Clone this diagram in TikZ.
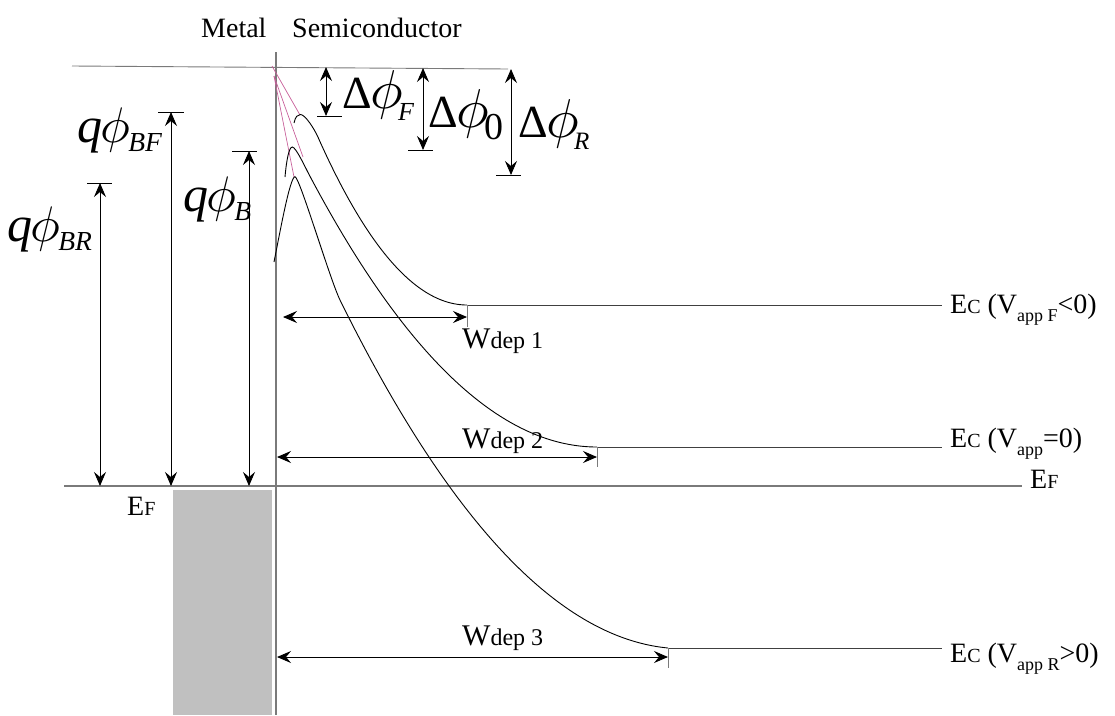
\documentclass[tikz,border=0pt]{standalone}
\usepackage{fontspec}
\setmainfont{Liberation Serif}
\usetikzlibrary{arrows.meta}
\newcommand\fs[1]{\fontsize{#1}{#1}\selectfont}
\newcommand\qlab[1]{{\fs{10}\textit{q}\kern-0.3pt$\phi$}\kern-0.4pt\raisebox{-1.8pt}{\fs{5.5}\textit{#1}}}
\newcommand\dlab[2]{{\fs{9.2}Δ}\kern-0.2pt{\fs{10.8}$\phi$}\kern-1pt\raisebox{-2.4pt}{\fs{#1}#2}}
\definecolor{lg}{HTML}{7A7A7A}
\definecolor{pk}{HTML}{C8609A}
\definecolor{metalgray}{HTML}{C0C0C0}
\begin{document}
\begin{tikzpicture}[x=1pt,y=-1pt,
  txt/.style={inner sep=0pt, anchor=base west},
  glab/.style={inner sep=0pt, anchor=base west, scale=5},
  tipA/.tip={Stealth[length=14pt,width=12pt,inset=5pt]},
  dimarrow/.style={line width=0.9pt, tipA-tipA},
  barline/.style={line width=0.9pt},
  band/.style={line width=0.9pt, black},
  greyline/.style={draw=lg, line width=1.3pt},
  flatline/.style={draw=black!75, line width=1pt},
  pinkline/.style={draw=pk, line width=0.7pt}]
\useasboundingbox (0,0) rectangle (1115,715);

% metal band
\fill[metalgray] (173,490) rectangle (272,715);

% reference lines
\coordinate (topL) at (72,66);
\coordinate (topR) at (508,69);
\draw[draw=lg, line width=0.9pt] (topL) -- (topR);
\coordinate (ifT) at (276,52);
\coordinate (ifB) at (276,715);
\draw[greyline] (ifT) -- (ifB);
\coordinate (efL) at (64,486);
\coordinate (efR) at (1022,486);
\draw[greyline] (efL) -- (efR);

% title
\node[txt] (metal) at (201,37) {\fs{28}Metal};
\node[txt] (semi) at (292,37) {\fs{28}Semiconductor};

% barrier heights
\coordinate (bfT) at (171,112); \coordinate (bfB) at (171,486);
\draw[barline] (158,112) -- (184,112);
\draw[dimarrow] (bfT) -- (bfB);
\coordinate (b0T) at (249,151); \coordinate (b0B) at (249,486);
\draw[barline] (232,151) -- (257,151);
\draw[dimarrow] (b0T) -- (b0B);
\coordinate (brT) at (100,183); \coordinate (brB) at (100,486);
\draw[barline] (87,183) -- (112,183);
\draw[dimarrow] (brT) -- (brB);

\node[glab] (qbf) at (76,142) {\qlab{BF}};
\node[glab] (qb) at (182,211) {\qlab{B}};
\node[glab] (qbr) at (6,241) {\qlab{BR}};

% delta phi
\coordinate (dfT) at (326,67); \coordinate (dfB) at (326,116);
\draw[barline] (317,116) -- (342,116);
\draw[dimarrow] (dfT) -- (dfB);
\coordinate (d0T) at (423,68); \coordinate (d0B) at (423,150);
\draw[barline] (408,150) -- (433,150);
\draw[dimarrow] (d0T) -- (d0B);
\coordinate (drT) at (511,69); \coordinate (drB) at (511,175);
\draw[barline] (496,175) -- (521,175);
\draw[dimarrow] (drT) -- (drB);

\node[glab] (dphf) at (341,108) {\dlab{5.2}{\textit{F}}};
\node[glab] (dph0) at (427,127) {\dlab{7.6}{0}};
\node[glab] (dphr) at (517,137) {\dlab{5}{\textit{R}}};

% pink construction lines
\draw[pinkline] (272,66) -- (300,115);
\draw[pinkline] (274,76) -- (303,157);
\draw[pinkline] (274,76) -- (294,177);

% band curves
\draw[band] (294,123) .. controls (295.5,116.5) and (297.5,114.5) .. (300.5,114.5)
  .. controls (305,114.5) and (314,128.2) .. (318,137.2)
  -- plot[domain=318:467, samples=60] (\x,{305-(0.08695*(467-\x))^2});
\draw[band] (285,177) .. controls (286.5,160) and (289,147) .. (292.3,147)
  .. controls (296,147) and (306,168.9) .. (310,176.4)
  -- plot[domain=310:597, samples=80] (\x,{447-(0.05732*(597-\x))^2});
\draw[band] (274,262) .. controls (280,232) and (290,176.7) .. (295,176.7)
  .. controls (299.5,176.7) and (330,279.7) .. (340,300)
  -- plot[domain=340:668, samples=90] (\x,{648-0.0962*(668-\x)-(0.05423*(668-\x))^2});

% flat conduction band levels
\coordinate (fF) at (467,305); \coordinate (fFe) at (942,305);
\draw[flatline] (fF) -- (fFe);
\coordinate (f0) at (597,447); \coordinate (f0e) at (942,447);
\draw[flatline] (f0) -- (f0e);
\coordinate (fR) at (668,648); \coordinate (fRe) at (942,648);
\draw[flatline] (fR) -- (fRe);

% ticks
\draw[draw=lg, line width=1pt] (467,305) -- (467,327);
\draw[draw=lg, line width=1pt] (597,447) -- (597,467);
\draw[draw=lg, line width=1pt] (668,648) -- (668,668);

% depletion widths
\coordinate (w1L) at (283,317); \coordinate (w1R) at (467,317);
\draw[dimarrow] (w1L) -- (w1R);
\coordinate (w2L) at (277,457); \coordinate (w2R) at (597,457);
\draw[dimarrow] (w2L) -- (w2R);
\coordinate (w3L) at (277,657); \coordinate (w3R) at (668,657);
\draw[dimarrow] (w3L) -- (w3R);

\node[txt] (wd1) at (462,348) {{\fs{30}W}{\fs{24}dep 1}};
\node[txt] (wd2) at (462,448) {{\fs{30}W}{\fs{24}dep 2}};
\node[txt] (wd3) at (462,645) {{\fs{30}W}{\fs{24}dep 3}};

% right labels
\node[txt] (ecF) at (950,313) {\fs{28}E{\fs{20}C} (V\raisebox{-8pt}{\fs{18}app F}<0)};
\node[txt] (ec0) at (950,447) {\fs{28}E{\fs{20}C} (V\raisebox{-8pt}{\fs{18}app}=0)};
\node[txt] (ecR) at (950,662) {\fs{28}E{\fs{20}C} (V\raisebox{-8pt}{\fs{18}app R}>0)};
\node[txt] (efr) at (1030,488) {\fs{28}E{\fs{20}F}};
\node[txt] (efl) at (127,515) {\fs{28}E{\fs{20}F}};
\end{tikzpicture}
\end{document}
